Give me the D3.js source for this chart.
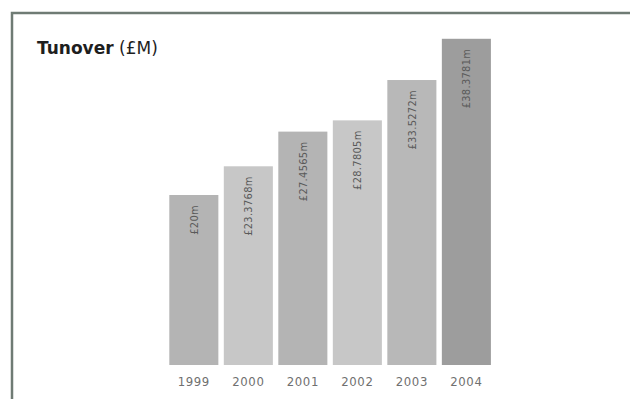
<!DOCTYPE html>
<html>
<head>
<meta charset="utf-8">
<script src="https://cdn.jsdelivr.net/npm/d3@7"></script>
<style>
  body { margin: 0; background: #fff; }
  svg { display: block; }
</style>
</head>
<body>
<svg id="chart" width="630" height="399"></svg>
<script>
const years = ["1999", "2000", "2001", "2002", "2003", "2004"];
const turnover = [20, 23.3768, 27.4565, 28.7805, 33.5272, 38.3781];
const valueLabels = ["£20m", "£23.3768m", "£27.4565m", "£28.7805m", "£33.5272m", "£38.3781m"];
const barColors = ["#b4b4b4", "#c7c7c7", "#b4b4b4", "#c7c7c7", "#b8b8b8", "#9d9d9d"];

const svg = d3.select("#chart");

// frame (top + left edge only, runs off the page)
svg.append("path")
    .attr("d", "M12,400 L12,13 L631,13")
    .attr("fill", "none")
    .attr("stroke", "#6f7b74")
    .attr("stroke-width", 2.5);

const title = svg.append("text")
    .attr("x", 37)
    .attr("y", 54)
    .style("font-family", "'DejaVu Sans', sans-serif")
    .style("font-size", "17px")
    .attr("fill", "#1e1e1e");
title.append("tspan").style("font-weight", "bold").text("Tunover");
title.append("tspan").text(" (£M)");

const x = d3.scaleBand()
    .domain(years)
    .range([169.3, 490.9])
    .paddingInner(0.1)
    .paddingOuter(0);

const y = d3.scaleLinear()
    .domain([0, 40])
    .range([365, 25]);

const data = years.map((yr, i) => ({ year: yr, value: turnover[i], label: valueLabels[i], color: barColors[i] }));

svg.selectAll(".bar")
    .data(data)
    .enter().append("rect")
    .attr("class", "bar")
    .attr("x", d => x(d.year))
    .attr("y", d => y(d.value))
    .attr("width", x.bandwidth())
    .attr("height", d => y(0) - y(d.value))
    .attr("fill", d => d.color);

svg.selectAll(".vlabel")
    .data(data)
    .enter().append("text")
    .attr("class", "vlabel")
    .attr("transform", d => "translate(" + (x(d.year) + x.bandwidth() / 2) + "," + (y(d.value) + 10) + ") rotate(-90)")
    .attr("text-anchor", "end")
    .attr("dy", "0.35em")
    .style("font-family", "'Liberation Sans Narrow', 'DejaVu Sans Condensed', sans-serif")
    .style("font-size", "11px")
    .style("letter-spacing", "0.3px")
    .attr("fill", "#5a5a5a")
    .text(d => d.label);

const xAxis = svg.append("g")
    .attr("transform", "translate(0,365)")
    .call(d3.axisBottom(x).tickSize(0).tickPadding(12));
xAxis.select(".domain").remove();
xAxis.selectAll("text")
    .style("font-family", "'Liberation Sans Narrow', 'DejaVu Sans Condensed', sans-serif")
    .style("font-size", "13px")
    .style("letter-spacing", "0.6px")
    .attr("fill", "#707070");
</script>
</body>
</html>
